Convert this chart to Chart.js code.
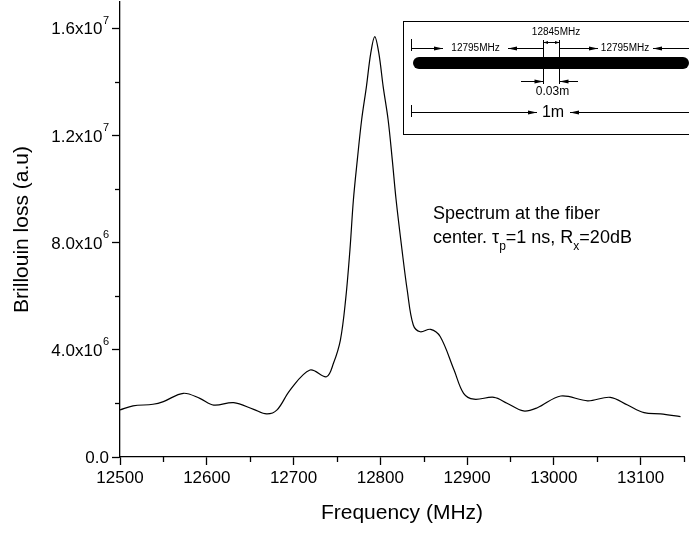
<!DOCTYPE html>
<html>
<head>
    <title>Brillouin loss spectrum</title>
    <script src="https://cdn.jsdelivr.net/npm/chart.js@4.4.0/dist/chart.umd.min.js"></script>
    <style>
        html, body {
            margin: 0;
            padding: 0;
            background: white;
        }
        #wrap {
            width: 689px;
            height: 534px;
        }
    </style>
</head>
<body>
    <div id="wrap"><canvas id="spectrum" width="689" height="534"></canvas></div>

    <script>
        // Spectrum (MHz, a.u.)
        const freq = [12500, 12515, 12538, 12550, 12573, 12592, 12608, 12631, 12654, 12669,
                      12681, 12696, 12719, 12738, 12746, 12754, 12760, 12765, 12769, 12773.5,
                      12778.5, 12784, 12789, 12793.6, 12798.3, 12803.3, 12809, 12813.8, 12818.2, 12825,
                      12831, 12838, 12846, 12858, 12869, 12885, 12896, 12908, 12931, 12946,
                      12965, 12981, 13008, 13039, 13065, 13085, 13104, 13123, 13146];
        const loss = [1.76e6, 1.91e6, 1.97e6, 2.07e6, 2.38e6, 2.19e6, 1.94e6, 2.03e6, 1.78e6, 1.61e6,
                      1.76e6, 2.50e6, 3.25e6, 3.00e6, 3.50e6, 4.37e6, 5.87e6, 7.74e6, 9.61e6, 1.110e7,
                      1.260e7, 1.384e7, 1.509e7, 1.571e7, 1.509e7, 1.384e7, 1.260e7, 1.110e7, 9.61e6, 7.74e6,
                      6.24e6, 4.93e6, 4.68e6, 4.77e6, 4.50e6, 3.25e6, 2.38e6, 2.16e6, 2.23e6, 2.01e6,
                      1.72e6, 1.84e6, 2.28e6, 2.10e6, 2.23e6, 1.94e6, 1.66e6, 1.61e6, 1.51e6];

        // Tick values and labels (mantissa, exponent)
        const yTickValues = [0, 4e6, 8e6, 1.2e7, 1.6e7];
        const yTickMantissa = ['0.0', '4.0x10', '8.0x10', '1.2x10', '1.6x10'];
        const yTickExponent = ['', '6', '6', '7', '7'];
        const yMinorTicks = [2e6, 6e6, 1e7, 1.4e7];
        const xMinorTicks = [12550, 12650, 12750, 12850, 12950, 13050, 13150];

        const FONT = '"Liberation Sans", Arial, sans-serif';

        const points = freq.map((f, i) => ({ x: f, y: loss[i] }));

        function arrowHead(ctx, x, y, dir) {
            // dir = 1 points right, -1 points left
            ctx.beginPath();
            ctx.moveTo(x, y);
            ctx.lineTo(x - dir * 9, y - 2);
            ctx.lineTo(x - dir * 9, y + 2);
            ctx.closePath();
            ctx.fill();
        }

        function line(ctx, x1, y1, x2, y2) {
            ctx.beginPath();
            ctx.moveTo(x1, y1);
            ctx.lineTo(x2, y2);
            ctx.stroke();
        }

        // minor ticks, y labels with exponents, the inset sketch and the text note
        const extras = {
            id: 'extras',
            afterDraw(chart) {
                const ctx = chart.ctx;
                const xs = chart.scales.x, ys = chart.scales.y;
                const area = chart.chartArea;
                ctx.save();
                ctx.strokeStyle = '#000';
                ctx.fillStyle = '#000';
                ctx.lineWidth = 1.3;

                xMinorTicks.forEach(v => {
                    const px = Math.round(xs.getPixelForValue(v)) + 0.5;
                    line(ctx, px, area.bottom, px, area.bottom + 5);
                });
                yMinorTicks.forEach(v => {
                    const py = Math.round(ys.getPixelForValue(v)) + 0.5;
                    line(ctx, area.left - 5, py, area.left, py);
                });

                // y tick labels
                ctx.textBaseline = 'middle';
                ctx.textAlign = 'right';
                yTickValues.forEach((v, i) => {
                    const py = ys.getPixelForValue(v);
                    let right = area.left - 11;
                    if (yTickExponent[i]) {
                        ctx.font = '11px ' + FONT;
                        ctx.fillText(yTickExponent[i], right, py - 8);
                        right -= ctx.measureText(yTickExponent[i]).width + 0.5;
                    }
                    ctx.font = '17px ' + FONT;
                    ctx.fillText(yTickMantissa[i], right, py + 1);
                });

                // inset: fiber sketch
                ctx.lineWidth = 1;
                ctx.strokeRect(403.5, 21.5, 300, 113);

                ctx.lineCap = 'round';
                ctx.lineWidth = 12;
                line(ctx, 419, 63, 683, 63);
                ctx.lineCap = 'butt';
                ctx.lineWidth = 1;

                line(ctx, 411.5, 39, 411.5, 51);
                line(ctx, 411.5, 105, 411.5, 117);
                line(ctx, 543.5, 40, 543.5, 84);
                line(ctx, 559.5, 40, 559.5, 84);

                // top dimension lines
                line(ctx, 411.5, 48.5, 443, 48.5); arrowHead(ctx, 443, 48.5, 1);
                line(ctx, 508, 48.5, 543.5, 48.5); arrowHead(ctx, 508, 48.5, -1);
                line(ctx, 559.5, 48.5, 598, 48.5); arrowHead(ctx, 598, 48.5, 1);
                line(ctx, 653, 48.5, 689, 48.5); arrowHead(ctx, 653, 48.5, -1);
                line(ctx, 543.5, 42.5, 559.5, 42.5);
                ctx.beginPath();
                ctx.moveTo(543.5, 42.5); ctx.lineTo(548, 41); ctx.lineTo(548, 44); ctx.closePath(); ctx.fill();
                ctx.beginPath();
                ctx.moveTo(559.5, 42.5); ctx.lineTo(555, 41); ctx.lineTo(555, 44); ctx.closePath(); ctx.fill();

                // below the bar
                line(ctx, 521, 81.5, 543.5, 81.5); arrowHead(ctx, 543.5, 81.5, 1);
                line(ctx, 559.5, 81.5, 578, 81.5); arrowHead(ctx, 559.5, 81.5, -1);

                // 1m line
                line(ctx, 411.5, 112.5, 537, 112.5); arrowHead(ctx, 537, 112.5, 1);
                line(ctx, 570, 112.5, 689, 112.5); arrowHead(ctx, 570, 112.5, -1);

                ctx.textAlign = 'center';
                ctx.textBaseline = 'middle';
                ctx.font = '10px ' + FONT;
                ctx.fillText('12845MHz', 556, 32);
                ctx.fillText('12795MHz', 475.5, 48.5);
                ctx.fillText('12795MHz', 625, 48.5);
                ctx.font = '12px ' + FONT;
                ctx.fillText('0.03m', 552.5, 92);
                ctx.font = '16px ' + FONT;
                ctx.fillText('1m', 553, 112.5);

                // note
                ctx.textAlign = 'left';
                ctx.textBaseline = 'alphabetic';
                const big = '18px ' + FONT, small = '12px ' + FONT;
                ctx.font = big;
                ctx.fillText('Spectrum at the fiber', 433, 219);
                let x = 433;
                const parts = [['center. \u03C4', big, 0], ['p', small, 7], ['=1 ns, R', big, 0], ['x', small, 7], ['=20dB', big, 0]];
                parts.forEach(p => {
                    ctx.font = p[1];
                    ctx.fillText(p[0], x, 243 + p[2]);
                    x += ctx.measureText(p[0]).width;
                });
                ctx.restore();
            }
        };

        new Chart(document.getElementById('spectrum'), {
            type: 'scatter',
            data: {
                datasets: [{
                    data: points,
                    showLine: true,
                    borderColor: '#000',
                    borderWidth: 1.2,
                    pointRadius: 0,
                    tension: 0.35,
                    fill: false
                }]
            },
            options: {
                responsive: false,
                animation: false,
                events: [],
                layout: { padding: { top: 2, right: 5, left: 0, bottom: 0 } },
                plugins: {
                    legend: { display: false },
                    tooltip: { enabled: false }
                },
                scales: {
                    x: {
                        type: 'linear',
                        min: 12500,
                        max: 13150,
                        afterFit: s => { s.height = 77; },
                        border: { display: true, color: '#000', width: 1.3 },
                        grid: { drawOnChartArea: false, drawTicks: true, tickLength: 8, tickColor: '#000', tickWidth: 1.3 },
                        ticks: {
                            stepSize: 100,
                            includeBounds: false,
                            color: '#000',
                            padding: 3,
                            maxRotation: 0,
                            font: { family: FONT, size: 17 },
                            callback: v => String(v)
                        },
                        title: {
                            display: true,
                            text: 'Frequency (MHz)',
                            color: '#000',
                            font: { family: FONT, size: 21 },
                            padding: { top: 0, bottom: 8 }
                        }
                    },
                    y: {
                        type: 'linear',
                        min: 0,
                        max: 1.7e7,
                        afterFit: s => { s.width = 120; },
                        afterBuildTicks: s => { s.ticks = yTickValues.map(v => ({ value: v })); },
                        border: { display: true, color: '#000', width: 1.3 },
                        grid: { drawOnChartArea: false, drawTicks: true, tickLength: 8, tickColor: '#000', tickWidth: 1.3 },
                        ticks: {
                            display: false
                        },
                        title: {
                            display: true,
                            text: 'Brillouin loss (a.u)',
                            color: '#000',
                            font: { family: FONT, size: 21 },
                            padding: { top: 10, bottom: 0 }
                        }
                    }
                }
            },
            plugins: [extras]
        });
    </script>
</body>
</html>
